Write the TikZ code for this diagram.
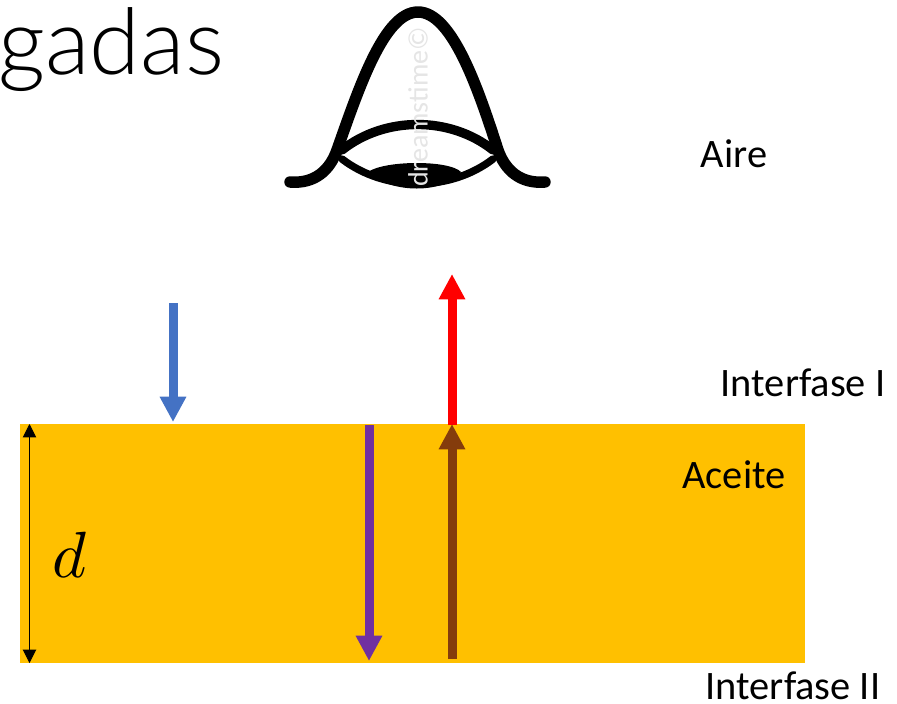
\documentclass[tikz,border=0pt]{standalone}
\usepackage{fontspec}
\setmainfont{Carlito}
\newfontfamily\lightfont{Lato Light}
\usetikzlibrary{arrows.meta}
\definecolor{oil}{HTML}{FFC000}
\definecolor{bluear}{HTML}{4472C4}
\definecolor{purplear}{HTML}{7030A0}
\definecolor{brownar}{HTML}{843C0C}
\tikzset{
  ray/.style={line width=6.75pt,-{Triangle[length=19pt,width=18.7pt]}},
  lab/.style={font=\fontsize{30.3pt}{33pt}\selectfont,inner sep=0pt,anchor=base},
  eye/.style={line width=8.6pt,line cap=round,line join=round,black}
}
\begin{document}
\begin{tikzpicture}[x=0.75pt,y=-0.75pt]
\useasboundingbox (0,0) rectangle (897,704);
\fill[white] (0,0) rectangle (897,704);
% title fragment
\node[inner sep=0pt,anchor=base west,font=\lightfont\fontsize{69pt}{72pt}\selectfont] (title) at (-2,74) {gadas};
% oil layer
\node[fill=oil,inner sep=0pt,minimum width=588.75pt,minimum height=179.25pt,anchor=north west] (oil) at (20,424) {};
% eye
\draw[eye] (290,182) .. controls (315,184) and (330,170) .. (337,150)
  .. controls (359,88) and (384,12) .. (418,12)
  .. controls (452,12) and (478,88) .. (498,150)
  .. controls (505,170) and (520,184) .. (545,182);
\draw[eye,line width=7pt] (342,150) .. controls (385,116) and (450,116) .. (493,150);
\draw[eye,line width=5.6pt] (342,159) .. controls (385,192) and (450,192) .. (493,159);
\fill[black] (368,172) .. controls (385,160) and (450,160) .. (461,172)
  .. controls (445,194) and (390,194) .. (368,172) -- cycle;
\node[rotate=90,inner sep=0pt,text=gray!20,font=\fontsize{21pt}{24pt}\selectfont] (mark) at (418,107) {dreamstime©};
% rays
\coordinate (blueS) at (173,303);
\coordinate (blueE) at (173,422);
\coordinate (purS) at (369,425);
\coordinate (purE) at (369,661);
\coordinate (redS) at (452,425);
\coordinate (redE) at (452,274);
\coordinate (broS) at (452,659);
\coordinate (broE) at (452,424);
\coordinate (dT) at (29.5,424);
\coordinate (dB) at (29.5,663);
\draw[ray,draw=bluear,fill=bluear] (blueS) -- (blueE);
\draw[ray,draw=purplear,fill=purplear] (purS) -- (purE);
\draw[ray,draw=red,fill=red] (redS) -- (redE);
\draw[ray,draw=brownar,fill=brownar] (broS) -- (broE);
\draw[line width=0.75pt,black,{Triangle[length=10pt,width=10pt]}-{Triangle[length=10pt,width=10pt]}] (dT) -- (dB);
% labels
\node[lab] (aire) at (734,167.5) {Aire};
\node[lab] (if1) at (803,396.5) {Interfase I};
\node[lab] (aceite) at (734,488.5) {Aceite};
\node[lab] (if2) at (793,699) {Interfase II};
\node[inner sep=0pt,anchor=base,scale=4.9] (d) at (70,577) {$d$};
\end{tikzpicture}
\end{document}
